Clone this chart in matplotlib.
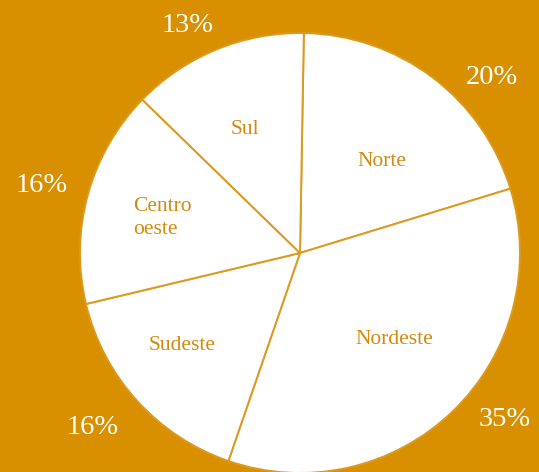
import matplotlib
matplotlib.use("Agg")
import matplotlib.pyplot as plt

regions = ["Norte", "Nordeste", "Sudeste", "Centro\noeste", "Sul"]
shares = [20, 35, 16, 16, 13]
pct_labels = ["20%", "35%", "16%", "16%", "13%"]

# layout (pixel coords from top-left)
name_pos = [(382, 162), (394, 340), (182, 345), (133, 218), (245, 130)]
name_ha = ["center", "center", "center", "left", "center"]
pct_pos = [(492, 77), (505, 420), (93, 428), (42, 186), (188, 25)]

BG = "#D89000"
W, H = 539, 472

fig = plt.figure(figsize=(W / 100, H / 100), dpi=100)
fig.patch.set_facecolor(BG)
ax = fig.add_axes([0, 0, 1, 1])
ax.set_facecolor(BG)

ax.pie(shares, center=(300, H - 253), radius=220, startangle=89,
       counterclock=False, colors=["white"] * len(shares),
       wedgeprops=dict(edgecolor="#DC9A20", linewidth=1.4), frame=True)
ax.set_xlim(0, W)
ax.set_ylim(0, H)
ax.set_aspect("equal")
ax.axis("off")

for name, (x, y), ha in zip(regions, name_pos, name_ha):
    ax.text(x, H - y, name, ha=ha, va="center", color="#D08A10",
            fontsize=15.5, family="Liberation Serif", linespacing=1.25,
            multialignment="left")
for p, (x, y) in zip(pct_labels, pct_pos):
    ax.text(x, H - y, p, ha="center", va="center", color="white",
            fontsize=20.5, family="Liberation Serif")

fig.savefig("out.png", dpi=100, facecolor=BG)
